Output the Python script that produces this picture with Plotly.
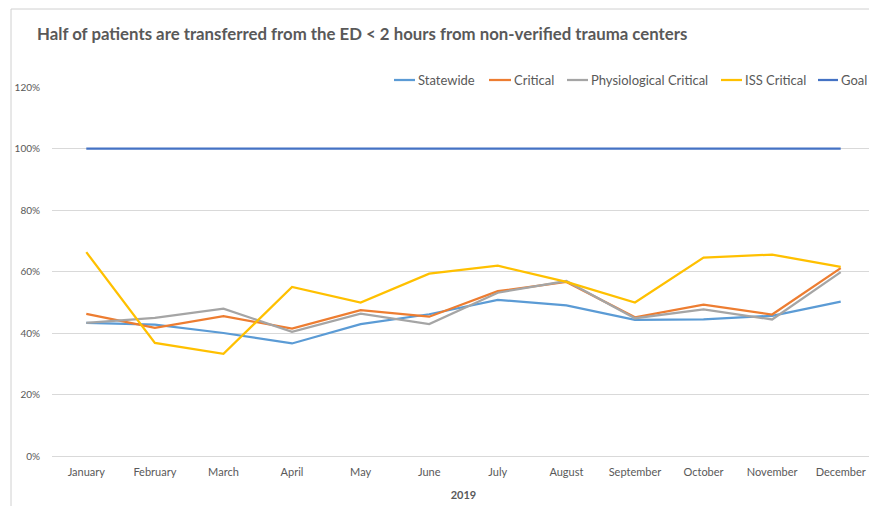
import plotly.graph_objects as go

months = ["January", "February", "March", "April", "May", "June", "July",
          "August", "September", "October", "November", "December"]
statewide = [0.433, 0.427, 0.400, 0.366, 0.429, 0.461, 0.508, 0.490, 0.443, 0.444, 0.456, 0.502]
critical = [0.462, 0.417, 0.455, 0.414, 0.474, 0.453, 0.536, 0.566, 0.451, 0.492, 0.460, 0.611]
physio = [0.433, 0.449, 0.479, 0.404, 0.463, 0.429, 0.531, 0.569, 0.448, 0.477, 0.444, 0.598]
iss = [0.663, 0.368, 0.332, 0.550, 0.499, 0.593, 0.619, 0.566, 0.499, 0.645, 0.655, 0.615]
goal = [1.0] * 12

series = [
    ("Statewide", statewide, "#5B9BD5"),
    ("Critical", critical, "#ED7D31"),
    ("Physiological Critical", physio, "#A5A5A5"),
    ("ISS Critical", iss, "#FFC000"),
    ("Goal", goal, "#4472C4"),
]

# page offset (default body margin of the html page)
OFF = 8
# plot area in screen pixels
L, R, T, B = 52, 875, 87, 456
W, H = 877 - OFF, 506 - OFF
PW, PH = R - L, B - T


def px(x):
    return (x - L) / PW


def py(y):
    return (B - y) / PH


fig = go.Figure()
for name, vals, color in series:
    fig.add_trace(go.Scatter(x=months, y=vals, mode="lines", name=name,
                             line=dict(color=color, width=2.25), showlegend=False))

FONT = "Lato, Open Sans, sans-serif"
fig.update_layout(
    width=W, height=H,
    margin=dict(l=L - OFF, r=(877 - R), t=T - OFF, b=(506 - B), autoexpand=False),
    paper_bgcolor="white", plot_bgcolor="white",
    font=dict(family=FONT, color="#595959", size=10),
    showlegend=False,
)
fig.update_xaxes(range=[-0.5, 11.5], showgrid=False, showline=False, zeroline=False,
                 ticks="", automargin=False, ticklabelstandoff=8,
                 tickfont=dict(size=11, color="#595959"),
                 title=dict(text="<b>2019</b>", font=dict(size=11, color="#595959"), standoff=14))
fig.update_yaxes(range=[0, 1.2], tickvals=[0, 0.2, 0.4, 0.6, 0.8, 1.0, 1.2],
                 tickformat=".0%", showgrid=True, gridcolor="#D9D9D9", gridwidth=1,
                 zeroline=True, zerolinecolor="#D9D9D9", zerolinewidth=1,
                 showline=False, ticks="", ticklabelstandoff=11, automargin=False,
                 tickfont=dict(size=10, color="#595959"))

# title
fig.add_annotation(text="<b>Half of patients are transferred from the ED < 2 hours from non-verified trauma centers</b>",
                   xref="paper", yref="paper", x=px(35), y=py(33), xanchor="left", yanchor="middle",
                   showarrow=False, font=dict(size=16.8, color="#595959", family=FONT))

# manual legend
leg_y = py(80)
legend_pos = [(394, 416), (489, 512), (567, 589), (721, 743), (818, 839)]
for (name, vals, color), (gx0, tx) in zip(series, legend_pos):
    fig.add_shape(type="line", xref="paper", yref="paper",
                  x0=px(gx0), x1=px(tx - 1), y0=leg_y, y1=leg_y,
                  line=dict(color=color, width=2.25))
    fig.add_annotation(text=name, xref="paper", yref="paper", x=px(tx), y=leg_y,
                       xanchor="left", yanchor="middle", showarrow=False,
                       font=dict(size=13, color="#595959", family=FONT))

# chart frame (Excel chart area border)
fig.add_shape(type="line", xref="paper", yref="paper",
              x0=px(11), x1=px(880), y0=py(9), y1=py(9),
              line=dict(color="#D0D0D0", width=1))
fig.add_shape(type="line", xref="paper", yref="paper",
              x0=px(11), x1=px(11), y0=py(9), y1=py(510),
              line=dict(color="#D0D0D0", width=1))

fig.write_html("out.html")
